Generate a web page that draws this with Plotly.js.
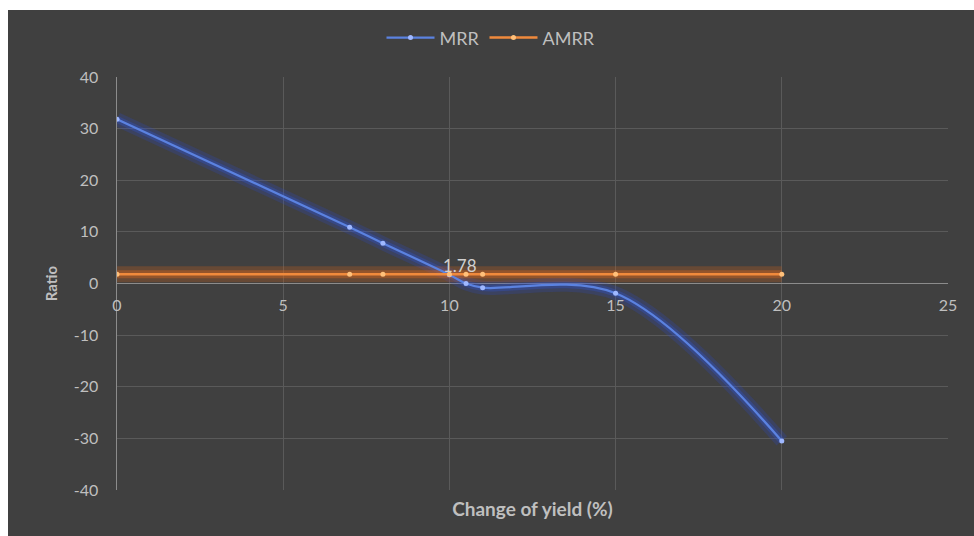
<!DOCTYPE html>
<html>
<head>
<meta charset="utf-8">
<script src="https://cdn.plot.ly/plotly-3.0.1.min.js"></script>
<style>
  html, body { margin: 0; padding: 0; background: #ffffff; width: 974px; height: 536px; overflow: hidden; }
  #chart { position: absolute; left: 8px; top: 10px; width: 966px; height: 526px; }
</style>
</head>
<body>
<div id="chart"></div>
<script>
// Data
const changeOfYield = [0, 7, 8, 10, 10.5, 11, 15, 20];
const mrr  = [31.8, 10.9, 7.8, 1.7, 0.0, -0.8, -1.9, -30.5];
const amrr = [1.78, 1.78, 1.78, 1.78, 1.78, 1.78, 1.78, 1.78];
const amrrLabels = ['', '', '', '1.78', '', '', '', ''];
const xTicks = [0, 5, 10, 15, 20, 25];
const yTicks = [-40, -30, -20, -10, 0, 10, 20, 30, 40];

const FONT = 'Lato, "Open Sans", "Liberation Sans", sans-serif';
const TXT = '#bfbfbf';

const traces = [
  // glow layers
  { x: changeOfYield, y: mrr, mode: 'lines', line: { color: 'rgba(40,75,210,0.22)', width: 14, shape: 'spline', smoothing: 1 }, showlegend: false, hoverinfo: 'skip' },
  { x: changeOfYield, y: mrr, mode: 'lines', line: { color: 'rgba(45,85,220,0.30)', width: 7, shape: 'spline', smoothing: 1 }, showlegend: false, hoverinfo: 'skip' },
  { x: changeOfYield, y: amrr, mode: 'lines', line: { color: 'rgba(220,100,20,0.25)', width: 16 }, showlegend: false, hoverinfo: 'skip' },
  { x: changeOfYield, y: amrr, mode: 'lines', line: { color: 'rgba(230,105,25,0.35)', width: 8 }, showlegend: false, hoverinfo: 'skip' },
  // main series
  { x: changeOfYield, y: mrr, name: 'MRR', mode: 'lines+markers',
    line: { color: '#5b82e0', width: 2.25, shape: 'spline', smoothing: 1 },
    marker: { color: '#9fb8ff', size: 5 } },
  { x: changeOfYield, y: amrr, name: 'AMRR', mode: 'lines+markers',
    line: { color: '#f08a3c', width: 2.5 },
    marker: { color: '#ffc07a', size: 5 } }
];

// data label(s) attached to the AMRR points
const annotations = [];
amrrLabels.forEach((t, i) => {
  if (t) {
    annotations.push({
      x: changeOfYield[i], y: amrr[i], xref: 'x', yref: 'y', text: t, showarrow: false,
      xanchor: 'center', yanchor: 'middle', xshift: 11, yshift: 9,
      font: { family: FONT, size: 17, color: '#d0d0d0' }
    });
  }
});

const layout = {
  width: 966, height: 526,
  paper_bgcolor: '#404040', plot_bgcolor: '#404040',
  margin: { l: 109, r: 26, t: 67, b: 46 },
  font: { family: FONT, color: TXT, size: 16 },
  showlegend: true,
  legend: { orientation: 'h', xref: 'container', yref: 'container', x: 0.5, xanchor: 'center', y: 0.947, yanchor: 'middle',
            itemwidth: 48,
            font: { family: FONT, size: 18, color: TXT }, bgcolor: 'rgba(0,0,0,0)' },
  annotations: annotations,
  xaxis: {
    range: [0, 25], tickvals: xTicks, ticktext: xTicks.map(String),
    anchor: 'free', position: 0.5,
    showgrid: true, gridcolor: '#5a5a5a', gridwidth: 1,
    zeroline: false, showline: false,
    ticks: 'outside', ticklen: 7, tickcolor: 'rgba(0,0,0,0)',
    tickfont: { family: FONT, size: 16, color: TXT },
    title: { text: 'Change of yield (%)', standoff: 189, font: { family: FONT, size: 19, color: TXT, weight: 'bold' } }
  },
  yaxis: {
    range: [-40, 40], tickvals: yTicks, ticktext: yTicks.map(String),
    showgrid: true, gridcolor: '#5a5a5a', gridwidth: 1,
    zeroline: true, zerolinecolor: '#8c8c8c', zerolinewidth: 1.5,
    showline: true, linecolor: '#8c8c8c', linewidth: 1.5,
    ticks: 'outside', ticklen: 14, tickcolor: 'rgba(0,0,0,0)',
    tickfont: { family: FONT, size: 16, color: TXT },
    title: { text: 'Ratio', standoff: 12, font: { family: FONT, size: 15, color: TXT, weight: 'bold' } }
  }
};

Plotly.newPlot('chart', traces, layout, { displayModeBar: false, staticPlot: true });
</script>
</body>
</html>
